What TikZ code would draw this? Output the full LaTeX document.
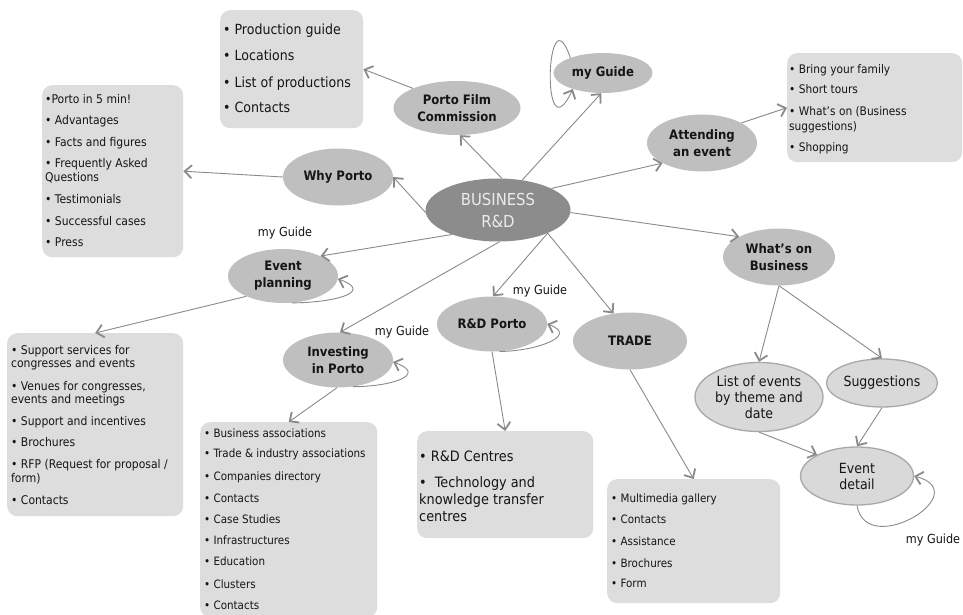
\documentclass[tikz,border=0pt]{standalone}
\usepackage{fontspec}
\setmainfont{DejaVu Sans Condensed}[BoldFont={DejaVu Sans Condensed Bold}]
\usetikzlibrary{arrows.meta,shapes.geometric}

\definecolor{hubfill}{HTML}{8C8C8C}
\definecolor{topicfill}{HTML}{BFBFBF}
\definecolor{subfill}{HTML}{D9D9D9}
\definecolor{subline}{HTML}{A8A8A8}
\definecolor{boxfill}{HTML}{DDDDDD}
\definecolor{linkcol}{HTML}{8A8A8A}
\definecolor{inkcol}{HTML}{151515}

\begin{document}
\begin{tikzpicture}[x=1pt,y=1pt,
  hub/.style={ellipse, fill=hubfill, text=white!92!black, inner sep=0pt,
    font=\fontsize{16.5}{22}\selectfont, align=center},
  topic/.style={ellipse, fill=topicfill, inner sep=0pt, text=inkcol,
    font=\bfseries\fontsize{13}{17}\selectfont, align=center},
  subtopic/.style={ellipse, fill=subfill, draw=subline, line width=1.3pt,
    inner sep=0pt, text=inkcol, font=\fontsize{14}{16}\selectfont, align=center},
  listbox/.style={rectangle, rounded corners=10pt, fill=boxfill, inner sep=0pt,
    anchor=north west},
  item/.style={anchor=base west, inner sep=0pt, text=inkcol},
  link/.style={draw=linkcol, line width=0.9pt,
    -{Straight Barb[length=7pt,width=13pt,line width=1.8pt]}},
  guide/.style={font=\fontsize{12.5}{15}\selectfont, text=inkcol, inner sep=0pt},
]
\useasboundingbox (0,0) rectangle (963,614);
\fill[white] (0,0) rectangle (963,614);

% ---- list boxes ----
\node[listbox, minimum width=143pt, minimum height=118pt] (filmbox) at (220,604) {};
\node[listbox, minimum width=141pt, minimum height=172pt] (whybox) at (42,529) {};
\node[listbox, minimum width=175pt, minimum height=109pt] (attbox) at (787,561) {};
\node[listbox, minimum width=176pt, minimum height=183pt] (evpbox) at (7,281) {};
\node[listbox, minimum width=177pt, minimum height=195pt] (invbox) at (200,192) {};
\node[listbox, minimum width=176pt, minimum height=107pt] (rdbox) at (417,183) {};
\node[listbox, minimum width=173pt, minimum height=124pt] (trbox) at (607,135) {};

% ---- list texts ----
\begin{scope}[every node/.append style={item, font=\fontsize{14}{16}\selectfont}]
  \node (f1) at (223,579) {• Production guide};
  \node (f2) at (223,553) {• Locations};
  \node (f3) at (223,526) {• List of productions};
  \node (f4) at (223,501) {• Contacts};
\end{scope}
\begin{scope}[every node/.append style={item, font=\fontsize{12}{14}\selectfont}]
  \node (w1) at (45,510) {•Porto in 5 min!};
  \node (w2) at (45,489) {• Advantages};
  \node (w3) at (45,467) {• Facts and figures};
  \node (w4) at (45,446) {• Frequently Asked};
  \node (w5) at (45,432) {Questions};
  \node (w6) at (45,410) {• Testimonials};
  \node (w7) at (45,388) {• Successful cases};
  \node (w8) at (45,367) {• Press};
\end{scope}
\begin{scope}[every node/.append style={item, font=\fontsize{11.8}{14}\selectfont}]
  \node (a1) at (789,540) {• Bring your family};
  \node (a2) at (789,520) {• Short tours};
  \node (a3) at (789,498) {• What’s on (Business};
  \node (a4) at (789,483) {suggestions)};
  \node (a5) at (789,462) {• Shopping};
\end{scope}
\begin{scope}[every node/.append style={item, font=\fontsize{12}{14}\selectfont}]
  \node (e1) at (11,260) {• Support services for};
  \node (e2) at (11,247) {congresses and events};
  \node (e3) at (11,224) {• Venues for congresses,};
  \node (e4) at (11,211) {events and meetings};
  \node (e5) at (11,189) {• Support and incentives};
  \node (e6) at (11,168) {• Brochures};
  \node (e7) at (11,146) {• RFP (Request for proposal /};
  \node (e8) at (11,132) {form)};
  \node (e9) at (11,110) {• Contacts};
\end{scope}
\begin{scope}[every node/.append style={item, font=\fontsize{11.5}{14}\selectfont}]
  \node (i1) at (204,177) {• Business associations};
  \node (i2) at (204,157) {• Trade \& industry associations};
  \node (i3) at (204,134) {• Companies directory};
  \node (i4) at (204,112) {• Contacts};
  \node (i5) at (204,91) {• Case Studies};
  \node (i6) at (204,70) {• Infrastructures};
  \node (i7) at (204,49) {• Education};
  \node (i8) at (204,26) {• Clusters};
  \node (i9) at (204,5) {• Contacts};
\end{scope}
\begin{scope}[every node/.append style={item, font=\fontsize{14.3}{16}\selectfont}]
  \node (r1) at (419,153) {• R\&D Centres};
  \node (r2) at (419,127) {•~ Technology and};
  \node (r3) at (419,110) {knowledge transfer};
  \node (r4) at (419,93) {centres};
\end{scope}
\begin{scope}[every node/.append style={item, font=\fontsize{11.5}{14}\selectfont}]
  \node (t1) at (611,112) {• Multimedia gallery};
  \node (t2) at (611,91) {• Contacts};
  \node (t3) at (611,69) {• Assistance};
  \node (t4) at (611,47) {• Brochures};
  \node (t5) at (611,27) {• Form};
\end{scope}

% ---- ellipses ----
\node[hub, minimum width=145pt, minimum height=63pt] (hub) at (498,404) {BUSINESS\\R\&D};
\node[topic, minimum width=127pt, minimum height=54pt] (pfc) at (457,506) {Porto Film\\Commission};
\node[topic, minimum width=99pt, minimum height=40pt] (mg) at (603,541) {my Guide};
\node[topic, minimum width=110pt, minimum height=57pt] (att) at (702,471) {Attending\\an event};
\node[topic, minimum width=110pt, minimum height=57pt] (why) at (338,437) {Why Porto};
\node[topic, minimum width=110pt, minimum height=54pt] (evp) at (283,338) {Event\\planning};
\node[topic, minimum width=110pt, minimum height=55pt] (inv) at (338,254) {Investing\\in Porto};
\node[topic, minimum width=110pt, minimum height=55pt] (rdp) at (492,290) {R\&D Porto};
\node[topic, minimum width=114pt, minimum height=57pt] (trd) at (630,273) {TRADE};
\node[topic, minimum width=112pt, minimum height=57pt] (wob) at (779,357) {What’s on\\Business};
\node[subtopic, minimum width=128pt, minimum height=69pt] (lst) at (759,217) {List of events\\by theme and\\date};
\node[subtopic, minimum width=111pt, minimum height=48pt] (sug) at (882,231) {Suggestions};
\node[subtopic, minimum width=113pt, minimum height=58pt] (edt) at (857,138) {Event\\detail};

% ---- "my Guide" labels ----
\node[guide] (g1) at (285,381) {my Guide};
\node[guide] (g2) at (402,282) {my Guide};
\node[guide] (g3) at (540,323) {my Guide};
\node[guide] (g4) at (933,74) {my Guide};

% ---- links from the hub ----
\draw[link] (hub.83) -- (pfc.-84);
\draw[link] (hub.51) -- (mg.-95);
\draw[link] (hub.22) -- (att.207);
\draw[link] (hub.-2) -- (wob.153);
\draw[link] (hub.182) -- (why.0);
\draw[link] (hub.208) -- (evp.28);
\draw[link] (hub.-87) -- (inv.86);
\draw[link] (hub.-25) -- (rdp.88);
\draw[link] (hub.-25) -- (trd.121);

% ---- links to lists ----
\draw[link] (pfc.156) -- (filmbox.east);
\draw[link] (why.180) -- (whybox.east);
\draw[link] (att.27) -- (attbox.west);
\draw[link] (evp.209) -- (evpbox.north);
\draw[link] (inv.-92) -- (invbox.north);
\draw[link] (rdp.-90) -- (rdbox.north);
\draw[link] (trd.-90) -- (trbox.north);
\draw[link] (wob.-90) -- (lst.north);
\draw[link] (wob.-90) -- (sug.north);
\draw[link] (lst.-90) -- (edt.152);
\draw[link] (sug.-90) -- (edt.north);

% ---- self loops ----
\draw[link] (mg.155) to[out=109, in=245, out distance=74pt, in distance=77pt] (mg.208);
\draw[link] (evp.-72) to[out=0, in=-20, out distance=40pt, in distance=40pt] (evp.-3);
\draw[link] (inv.-61) to[out=0, in=-20, out distance=38pt, in distance=38pt] (inv.-2);
\draw[link] (rdp.-75) to[out=0, in=-20, out distance=35pt, in distance=35pt] (rdp.0);
\draw[link] (edt.-90) to[out=-80, in=-15, out distance=55pt, in distance=65pt] (edt.0);
\end{tikzpicture}
\end{document}
